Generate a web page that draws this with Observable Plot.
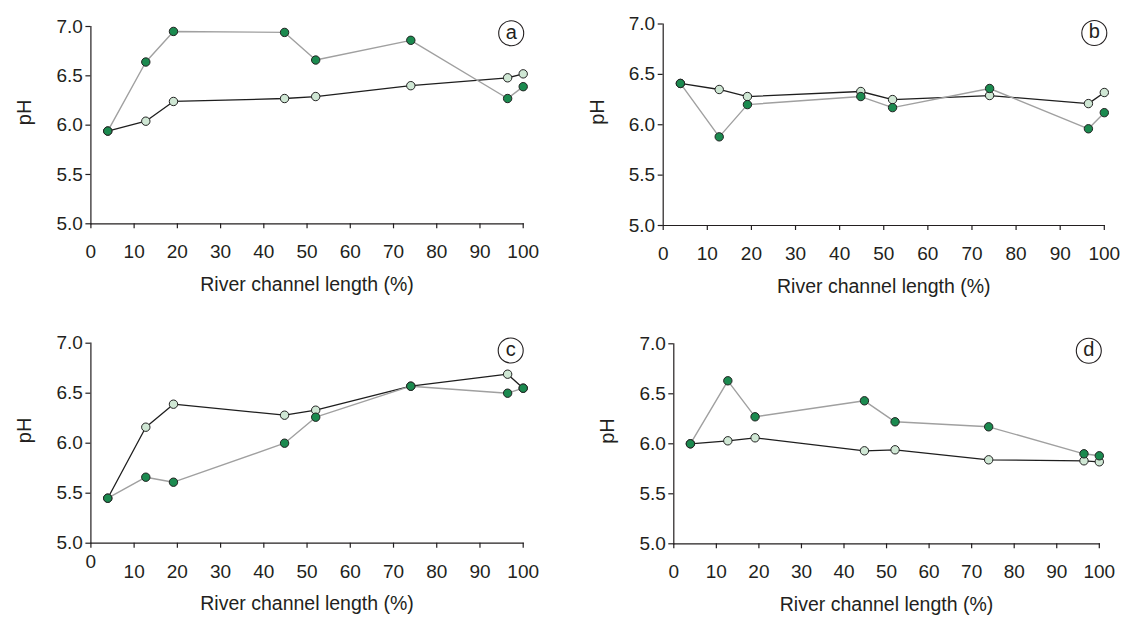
<!DOCTYPE html>
<html>
<head>
<meta charset="utf-8">
<script src="https://cdn.jsdelivr.net/npm/d3@7"></script>
<script src="https://cdn.jsdelivr.net/npm/@observablehq/plot@0.6"></script>
<style>
  html, body { margin: 0; padding: 0; background: #fff; }
  #wrap { position: relative; width: 1125px; height: 622px; overflow: hidden; }
  #wrap svg { position: absolute; overflow: visible; }
</style>
</head>
<body>
<div id="wrap"></div>
<script>
// ---- data ----
const channelLength = [3.9, 12.7, 19.1, 44.8, 52.0, 74.0, 96.4, 100];
const xTicks = [0, 10, 20, 30, 40, 50, 60, 70, 80, 90, 100];
const yTicks = [5.0, 5.5, 6.0, 6.5, 7.0];
const panelLabels = ["a", "b", "c", "d"];
const xTitle = "River channel length (%)";
const yTitle = "pH";

const aLight = [5.94, 6.04, 6.24, 6.27, 6.29, 6.40, 6.48, 6.52];
const aDark  = [5.94, 6.64, 6.95, 6.94, 6.66, 6.86, 6.27, 6.39];
const bLight = [6.41, 6.35, 6.28, 6.33, 6.25, 6.29, 6.21, 6.32];
const bDark  = [6.41, 5.88, 6.20, 6.28, 6.17, 6.36, 5.96, 6.12];
const cLight = [5.45, 6.16, 6.39, 6.28, 6.33, 6.57, 6.69, 6.55];
const cDark  = [5.45, 5.66, 5.61, 6.00, 6.26, 6.57, 6.50, 6.55];
const dLight = [6.00, 6.03, 6.06, 5.93, 5.94, 5.84, 5.83, 5.82];
const dDark  = [6.00, 6.63, 6.27, 6.43, 6.22, 6.17, 5.90, 5.88];

// ---- styling ----
const FONT = "'Liberation Sans', Arial, Helvetica, sans-serif";
const INK = "#231f20";
const DARK_FILL = "#1b8a4f";
const LIGHT_FILL = "#cfe7d4";

const panels = [
  {label: panelLabels[0], light: aLight, dark: aDark, left: 0, top: 0, width: 560, height: 311,
   mL: 90.4, mR: 37.3, mT: 26, mB: 87.7, badge: [-12, 6.7], zeroRaise: false},
  {label: panelLabels[1], light: bLight, dark: bDark, left: 560, top: 0, width: 565, height: 311,
   mL: 102.7, mR: 21.2, mT: 23.5, mB: 86, badge: [-10, 9], zeroRaise: false},
  {label: panelLabels[2], light: cLight, dark: cDark, left: 0, top: 311, width: 560, height: 311,
   mL: 90.4, mR: 37.3, mT: 31.7, mB: 79.3, badge: [-12.5, 7.3], zeroRaise: true},
  {label: panelLabels[3], light: dLight, dark: dDark, left: 560, top: 311, width: 565, height: 311,
   mL: 113.3, mR: 26.2, mT: 32.3, mB: 78.7, badge: [-10.5, 7], zeroRaise: false}
];

const wrap = document.getElementById("wrap");

for (const p of panels) {
  const lightData = channelLength.map((x, i) => ({x, y: p.light[i]}));
  const darkData = channelLength.map((x, i) => ({x, y: p.dark[i]}));

  const marks = [
    Plot.axisX({ticks: xTicks, tickSize: 5, tickPadding: 16, tickFormat: t => (p.zeroRaise && t === 0) ? "" : String(t),
                label: null, fontSize: 19, stroke: INK, strokeWidth: 1.2}),
    Plot.axisY({ticks: yTicks, tickSize: 5, tickPadding: 3, tickFormat: d3.format(".1f"),
                label: null, fontSize: 19, stroke: INK, strokeWidth: 1.2}),
    Plot.frame({anchor: "left", stroke: INK, strokeWidth: 1.2}),
    Plot.frame({anchor: "bottom", stroke: INK, strokeWidth: 1.2}),
    Plot.text([xTitle], {frameAnchor: "bottom", dy: 67, fontSize: 19.5, fill: INK}),
    Plot.text([yTitle], {frameAnchor: "left", dx: -66, rotate: -90, fontSize: 20, fill: INK}),
    Plot.line(lightData, {x: "x", y: "y", stroke: "#1e1e1e", strokeWidth: 1.3}),
    Plot.line(darkData, {x: "x", y: "y", stroke: "#a0a0a0", strokeWidth: 1.4}),
    Plot.dot(lightData, {x: "x", y: "y", r: 4.2, fill: LIGHT_FILL, stroke: "#222", strokeWidth: 1}),
    Plot.dot(darkData, {x: "x", y: "y", r: 4.2, fill: DARK_FILL, stroke: "#222", strokeWidth: 1}),
    Plot.dot([p.label], {frameAnchor: "top-right", dx: p.badge[0], dy: p.badge[1], r: 12.5,
                         fill: "white", stroke: INK, strokeWidth: 1.1}),
    Plot.text([p.label], {frameAnchor: "top-right", dx: p.badge[0], dy: p.badge[1] - 1,
                          textAnchor: "middle", lineAnchor: "middle", fontSize: 20, fill: INK})
  ];
  if (p.zeroRaise) {
    marks.push(Plot.axisX({ticks: [0], tickSize: 0, tickPadding: 11, tickFormat: t => String(t),
                           label: null, fontSize: 19, stroke: INK}));
  }

  const svg = Plot.plot({
    width: p.width, height: p.height,
    marginLeft: p.mL, marginRight: p.mR, marginTop: p.mT, marginBottom: p.mB,
    style: {fontFamily: FONT, color: INK, background: "transparent", overflow: "visible"},
    x: {domain: [0, 100]},
    y: {domain: [5, 7]},
    marks
  });
  svg.style.left = p.left + "px";
  svg.style.top = p.top + "px";
  wrap.appendChild(svg);
}
</script>
</body>
</html>
